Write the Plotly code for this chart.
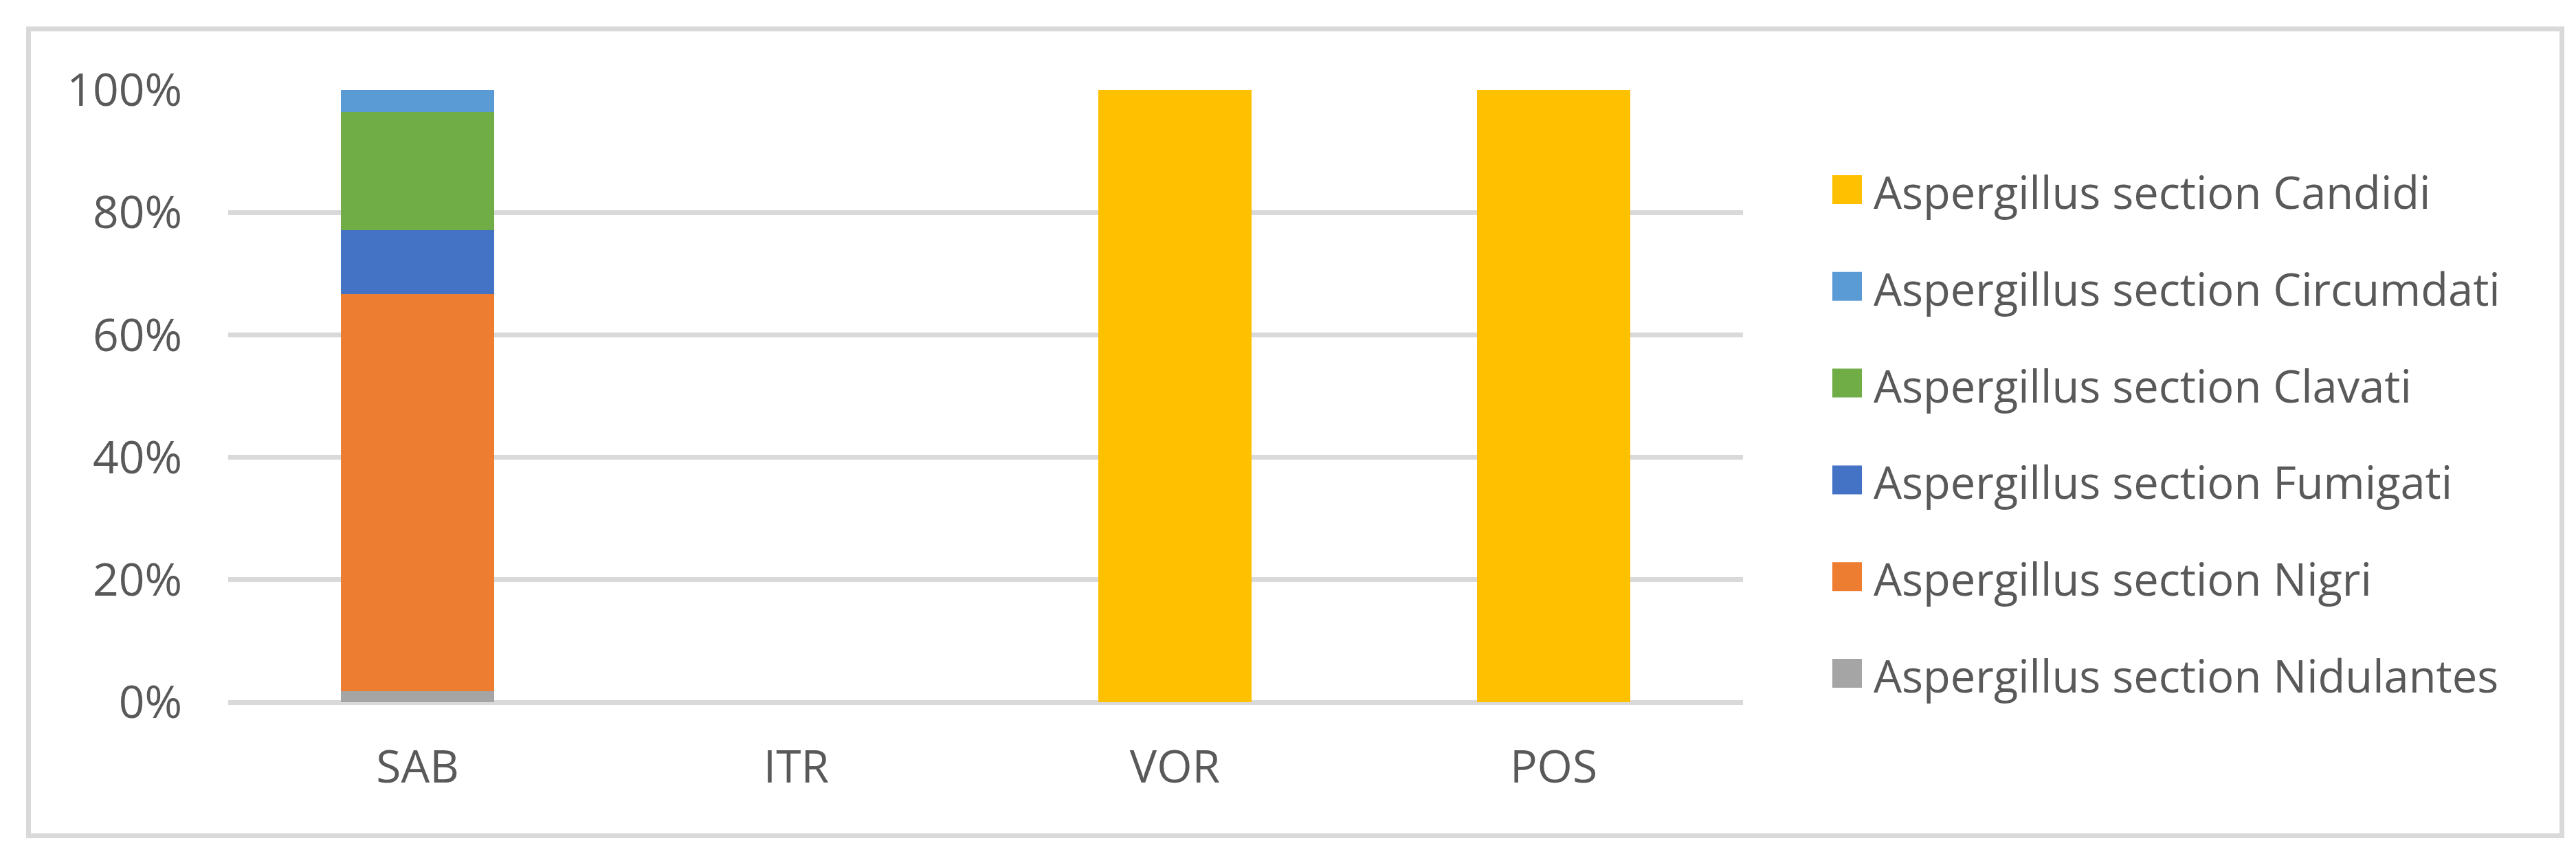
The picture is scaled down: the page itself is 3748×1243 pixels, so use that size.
import plotly.graph_objects as go

categories = ["SAB", "ITR", "VOR", "POS"]

# stacked series, bottom to top (fractions of each bar)
nidulantes = [0.0175, 0, 0, 0]
nigri = [0.649, 0, 0, 0]
fumigati = [0.105, 0, 0, 0]
clavati = [0.193, 0, 0, 0]
circumdati = [0.0355, 0, 0, 0]
candidi = [0, 0, 1.0, 1.0]

series_names = [
    "Aspergillus section Nidulantes",
    "Aspergillus section Nigri",
    "Aspergillus section Fumigati",
    "Aspergillus section Clavati",
    "Aspergillus section Circumdati",
    "Aspergillus section Candidi",
]
series_values = [nidulantes, nigri, fumigati, clavati, circumdati, candidi]
series_colors = ["#A5A5A5", "#ED7D31", "#4472C4", "#70AD47", "#5B9BD5", "#FFC000"]

y_ticks = [0, 0.2, 0.4, 0.6, 0.8, 1.0]

W, H = 3748, 1243
PL, PR, PT, PB = 324, 2528, 123, 1014
FONT = "Open Sans"
TXT = "#595959"
GRID = "#D9D9D9"


def px_x(p):
    return (p - PL) / (PR - PL)


def px_y(p):
    return (PB - p) / (PB - PT)


fig = go.Figure()
for name, vals, col in zip(series_names, series_values, series_colors):
    fig.add_trace(go.Bar(x=categories, y=vals, name=name,
                         marker=dict(color=col, line=dict(width=0)),
                         showlegend=False))

shapes = []
annotations = []
# outer chart border
shapes.append(dict(type="rect", xref="paper", yref="paper",
                   x0=px_x(33.5), x1=px_x(3719.5), y0=px_y(34), y1=px_y(1208.5),
                   line=dict(color=GRID, width=7), fillcolor="rgba(0,0,0,0)", layer="below"))

# legend (top to bottom = reversed stack order)
leg_top = 268
leg_step = 140.8
for i, (name, col) in enumerate(zip(series_names[::-1], series_colors[::-1])):
    cy = leg_top + i * leg_step
    shapes.append(dict(type="rect", xref="paper", yref="paper",
                       x0=px_x(2658), x1=px_x(2701), y0=px_y(cy - 21), y1=px_y(cy + 21),
                       line=dict(width=0), fillcolor=col))
    annotations.append(dict(xref="paper", yref="paper", x=px_x(2716), y=px_y(cy + 3),
                            text=name, showarrow=False, xanchor="left", yanchor="middle",
                            font=dict(family=FONT, size=65, color=TXT)))

fig.update_layout(
    width=W, height=H,
    margin=dict(l=PL, r=W - PR, t=PT, b=H - PB, pad=0),
    barmode="stack",
    bargap=0.597,
    plot_bgcolor="white",
    paper_bgcolor="white",
    font=dict(family=FONT, size=66, color=TXT),
    shapes=shapes,
    annotations=annotations,
    showlegend=False,
    xaxis=dict(showgrid=False, showline=False, zeroline=False, ticks="",
               tickfont=dict(family=FONT, size=66, color=TXT),
               ticklabelstandoff=50),
    yaxis=dict(range=[0, 1], tickvals=y_ticks, tickformat=".0%",
               showgrid=True, gridcolor=GRID, gridwidth=7,
               zeroline=True, zerolinecolor=GRID, zerolinewidth=7,
               showline=False, ticks="",
               tickfont=dict(family=FONT, size=66, color=TXT),
               ticklabelstandoff=66),
)

fig.write_html("out.html")
